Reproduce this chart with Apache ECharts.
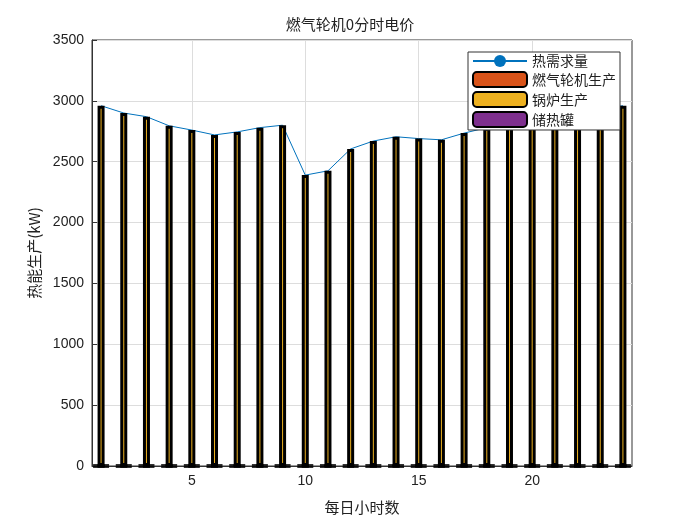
<!DOCTYPE html>
<html><head><meta charset="utf-8">
<script src="https://cdn.jsdelivr.net/npm/echarts@6/dist/echarts.min.js"></script>
<style>html,body{margin:0;padding:0;background:#fff}#c{width:700px;height:525px}</style>
</head><body><div id="c"></div>
<script>
const hours = [1,2,3,4,5,6,7,8,9,10,11,12,13,14,15,16,17,18,19,20,21,22,23,24];
const demand = [2960,2900,2870,2795,2760,2720,2745,2780,2800,2390,2425,2605,2670,2705,2690,2680,2735,2780,2820,2850,2880,2900,2930,2960];
const gasTurbine = new Array(24).fill(0);
const boiler = demand.slice();
const storage = new Array(24).fill(0);
const xTicks = [5,10,15,20];

const font = "'Noto Sans CJK SC', sans-serif";
const chart = echarts.init(document.getElementById('c'));
chart.setOption({
  animation:false,
  title:{text:'燃气轮机0分时电价',left:'center',top:12,textStyle:{fontSize:15,fontWeight:'normal',color:'#222',fontFamily:font}},
  grid:{left:92,right:68,top:40,bottom:59,show:true,borderColor:'#333',borderWidth:1},
  legend:{
    right:80,top:52,orient:'vertical',itemGap:3,itemWidth:54,itemHeight:15,
    backgroundColor:'#fff',borderColor:'#333',borderWidth:1,padding:[2,4,2,4],
    textStyle:{fontSize:14,fontFamily:font,color:'#222'},
    data:['热需求量','燃气轮机生产','锅炉生产','储热罐']
  },
  xAxis:{type:'value',min:0.6,max:24.4,interval:5,
    axisLabel:{fontSize:14,color:'#222',customValues:xTicks},
    axisTick:{customValues:xTicks,inside:true,lineStyle:{color:'#333'}},
    splitLine:{show:true,lineStyle:{color:'#ddd'}},
    axisLine:{lineStyle:{color:'#333'}},
    name:'每日小时数',nameLocation:'middle',nameGap:34,nameTextStyle:{fontSize:15,fontFamily:font,color:'#222'}},
  yAxis:{type:'value',min:0,max:3500,interval:500,
    axisLabel:{fontSize:14,color:'#222',formatter:v=>String(v)},
    axisTick:{show:true,inside:true,lineStyle:{color:'#333'}},
    splitLine:{lineStyle:{color:'#ddd'}},
    axisLine:{show:true,lineStyle:{color:'#333'}},
    name:'热能生产(kW)',nameLocation:'middle',nameGap:50,nameTextStyle:{fontSize:15,fontFamily:font,color:'#222'}},
  series:[
    {name:'燃气轮机生产',type:'bar',stack:'s',barWidth:7,data:hours.map((h,i)=>[h,gasTurbine[i]]),
     itemStyle:{color:'#D95319',borderColor:'#000',borderWidth:3}},
    {name:'锅炉生产',type:'bar',stack:'s',barWidth:7,data:hours.map((h,i)=>[h,boiler[i]]),
     itemStyle:{color:'#EDB120',borderColor:'#000',borderWidth:3}},
    {name:'储热罐',type:'bar',stack:'s',barWidth:7,data:hours.map((h,i)=>[h,storage[i]]),
     itemStyle:{color:'#7E2F8E',borderColor:'#000',borderWidth:3}},
    {name:'热需求量',type:'line',data:hours.map((h,i)=>[h,demand[i]]),symbol:'none',
     lineStyle:{color:'#0072BD',width:1},itemStyle:{color:'#0072BD'},z:1},
    {type:'scatter',data:hours.map(h=>[h,0]),symbol:'rect',symbolSize:[16,4],itemStyle:{color:'#000'},silent:true,z:5}
  ]
});
</script></body></html>
